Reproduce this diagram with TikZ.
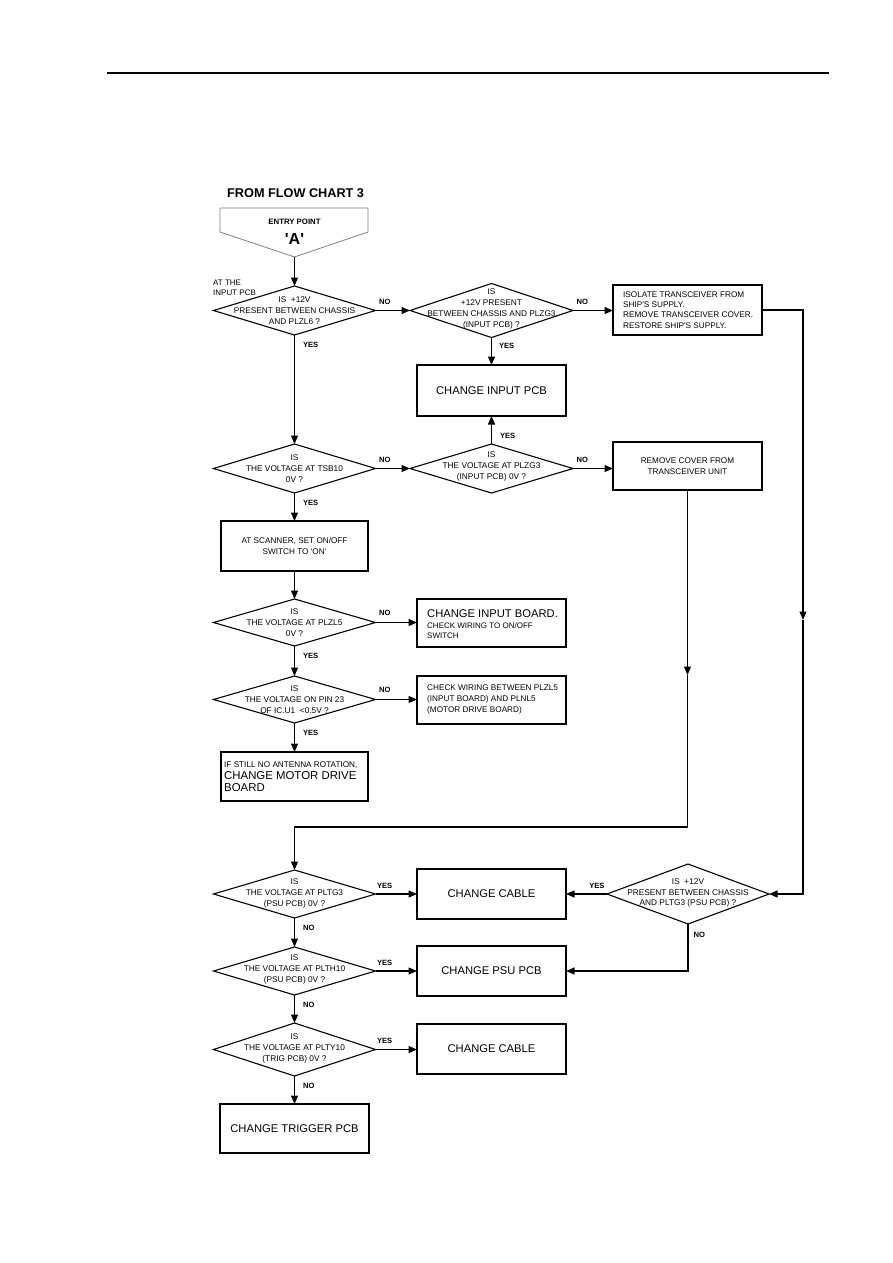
\documentclass[tikz,border=0pt]{standalone}
\usepackage{fontspec}
\setmainfont{Liberation Sans}
\usetikzlibrary{shapes.geometric,arrows.meta,calc}
\begin{document}
\begin{tikzpicture}[x=1pt,y=-1pt,
  arr/.style={line width=1.1pt,-{Triangle[length=8.5pt,width=7pt]}},
  dia/.style={draw,diamond,line width=1.1pt,inner sep=0pt,outer sep=0pt},
  dtxt/.style={align=center,font=\fontsize{8.3}{11}\selectfont,inner sep=0pt},
  bx/.style={draw,rectangle,line width=1.1pt,inner sep=0pt,outer sep=0pt,minimum width=149pt},
  bigt/.style={font=\fontsize{11.2}{13}\selectfont},
  smallt/.style={font=\fontsize{8.2}{10.8}\selectfont,inner sep=0pt},
  lbl/.style={font=\bfseries\fontsize{7.6}{9}\selectfont,inner sep=0pt},
  vlab/.style={lbl,pos=0,anchor=north west,xshift=8pt,yshift=-7pt},
  hlab/.style={lbl,pos=0,anchor=south west,xshift=3pt,yshift=5pt},
]
\fill[white] (0,0) rectangle (893,1263);
\useasboundingbox (0,0) rectangle (893,1263);

% header rule
\draw[line width=1.2pt] (107,73) -- (829,73);

% title and entry point
\node[anchor=west,inner sep=0pt,font=\bfseries\fontsize{12.7}{14}\selectfont] (title) at (227,193) {FROM FLOW CHART 3};
\draw[gray,line width=0.8pt] (220,208) -- (368,208) -- (368,232) -- (294.5,257) -- (220,232) -- cycle;
\coordinate (entry) at (294.5,257);
\node[inner sep=0pt,font=\bfseries\fontsize{7.8}{9}\selectfont] (ent1) at (294.5,222) {ENTRY POINT};
\node[inner sep=0pt,font=\bfseries\fontsize{16}{18}\selectfont] (ent2) at (294.5,239) {\textquotesingle A\textquotesingle};
\node[smallt,align=left,anchor=west,font=\fontsize{8}{10.5}\selectfont] (atthe) at (213,288) {AT THE\\INPUT PCB};

% diamonds
\node[dia,minimum width=162pt,minimum height=49pt] (d1) at (294.5,310.5) {};
\node[dtxt] (d1t) at (d1.center) {IS~~+12V\\PRESENT BETWEEN CHASSIS\\AND PLZL6 ?};
\node[dia,minimum width=163pt,minimum height=54pt] (d2) at (491.5,310.5) {};
\node[dtxt] (d2t) at ([yshift=2pt]d2.center) {IS\\+12V PRESENT\\BETWEEN CHASSIS AND PLZG3\\(INPUT PCB) ?};
\node[dia,minimum width=162pt,minimum height=49pt] (d3) at (294.5,468.5) {};
\node[dtxt] (d3t) at (d3.center) {IS\\THE VOLTAGE AT TSB10\\0V ?};
\node[dia,minimum width=163pt,minimum height=49pt] (d4) at (491.5,468.5) {};
\node[dtxt] (d4t) at ([yshift=2pt]d4.center) {IS\\THE VOLTAGE AT PLZG3\\(INPUT PCB) 0V ?};
\node[dia,minimum width=162pt,minimum height=47pt] (d5) at (294.5,622.5) {};
\node[dtxt] (d5t) at (d5.center) {IS\\THE VOLTAGE AT PLZL5\\0V ?};
\node[dia,minimum width=162pt,minimum height=47pt] (d6) at (294.5,699.5) {};
\node[dtxt] (d6t) at (d6.center) {IS\\THE VOLTAGE ON PIN 23\\OF IC.U1~~<0.5V ?};
\node[dia,minimum width=162pt,minimum height=48pt] (d7) at (294.5,894) {};
\node[dtxt] (d7t) at ([yshift=1pt]d7.center) {IS\\THE VOLTAGE AT PLTG3\\(PSU PCB) 0V ?};
\node[dia,minimum width=162pt,minimum height=48pt] (d8) at (294.5,971) {};
\node[dtxt] (d8t) at ([yshift=2pt]d8.center) {IS\\THE VOLTAGE AT PLTH10\\(PSU PCB) 0V ?};
\node[dia,minimum width=162pt,minimum height=53pt] (d9) at (294.5,1049.5) {};
\node[dtxt] (d9t) at ([yshift=1pt]d9.center) {IS\\THE VOLTAGE AT PLTY10\\(TRIG PCB) 0V ?};
\node[dia,minimum width=162pt,minimum height=60pt] (d10) at (688,894) {};
\node[dtxt,font=\fontsize{8.3}{10.2}\selectfont] (d10t) at ([yshift=1pt]d10.center) {IS~~+12V\\PRESENT BETWEEN CHASSIS\\AND PLTG3 (PSU PCB) ?};

% boxes
\node[bx,minimum height=51pt,bigt] (bip) at (491.5,390.5) {CHANGE INPUT PCB};
\node[bx,minimum height=50pt] (biso) at (687.5,310) {};
\node[smallt,align=left,anchor=west,font=\fontsize{8.2}{10.3}\selectfont] (bisot) at ([xshift=10pt]biso.west) {ISOLATE TRANSCEIVER FROM\\SHIP\textquotesingle S SUPPLY.\\REMOVE TRANSCEIVER COVER.\\RESTORE SHIP\textquotesingle S SUPPLY.};
\node[bx,minimum height=48pt,smallt,align=center] (brem) at (687.5,466) {REMOVE COVER FROM\\TRANSCEIVER UNIT};
\node[bx,minimum width=147pt,minimum height=50pt,smallt,align=center] (bsc) at (294.5,546) {AT SCANNER, SET ON/OFF\\SWITCH TO \textquotesingle ON\textquotesingle};
\node[bx,minimum height=48pt] (bib) at (491.5,623) {};
\node[inner sep=0pt,align=left,anchor=west,font=\fontsize{8}{10}\selectfont] (bibt) at ([xshift=10pt,yshift=-1pt]bib.west) {{\fontsize{11.2}{13}\selectfont CHANGE INPUT BOARD.}\\[1pt]CHECK WIRING TO ON/OFF\\SWITCH};
\node[bx,minimum height=48pt] (bcw) at (491.5,700) {};
\node[smallt,align=left,anchor=west,font=\fontsize{8.2}{11}\selectfont] (bcwt) at ([xshift=10pt,yshift=1pt]bcw.west) {CHECK WIRING BETWEEN PLZL5\\(INPUT BOARD) AND PLNL5\\(MOTOR DRIVE BOARD)};
\node[bx,minimum width=147pt,minimum height=49pt] (bmo) at (294.5,776.5) {};
\node[inner sep=0pt,align=left,anchor=west,font=\fontsize{8.2}{12}\selectfont] (bmot) at ([xshift=3pt]bmo.west) {IF STILL NO ANTENNA ROTATION,\\{\fontsize{11.4}{13}\selectfont CHANGE MOTOR DRIVE}\\{\fontsize{11.4}{13}\selectfont BOARD}};
\node[bx,minimum height=50pt,bigt] (bc1) at (491.5,894) {CHANGE CABLE};
\node[bx,minimum height=50pt,bigt] (bpsu) at (491.5,971) {CHANGE PSU PCB};
\node[bx,minimum height=50pt,bigt] (bc2) at (491.5,1049) {CHANGE CABLE};
\node[bx,minimum height=49pt,bigt] (btr) at (294.5,1128.5) {CHANGE TRIGGER PCB};

% thicker edges
\draw[line width=2.2pt] (bsc.south west) -- (bsc.south east);
\draw[line width=2.2pt] (bmo.north west) -- (bmo.north east);

% connectors
\draw[arr] (entry) -- (d1.north);
\draw[arr] (d1.east) -- node[hlab] (l1) {NO} (d2.west);
\draw[arr] (d1.south) -- node[vlab] (l2) {YES} (d3.north);
\draw[arr] (d2.south) -- node[vlab,xshift=-1pt,yshift=2pt] (l3) {YES} (bip.north);
\draw[arr] (d2.east) -- node[hlab] (l4) {NO} (d2.east -| biso.west);
\coordinate (r1) at (803,620);
\draw[arr] (biso.east) -| (r1);
\draw[arr] (r1) |- (d10.east);
\draw[arr] (d3.east) -- node[hlab] (l5) {NO} (d4.west);
\draw[arr] (d3.south) -- node[vlab] (l6) {YES} (bsc.north);
\draw[arr] (d4.north) -- node[lbl,pos=0.29,anchor=west,xshift=8pt] (l7) {YES} (bip.south);
\draw[arr] (d4.east) -- node[hlab] (l8) {NO} (d4.east -| brem.west);
\coordinate (r2) at (687.5,675);
\coordinate (c2) at (294.5,827);
\draw[arr] (brem.south) -- (r2);
\draw[arr] (r2) |- (c2) -- (d7.north);
\draw[arr] (bsc.south) -- (d5.north);
\draw[arr] (d5.east) -- node[hlab,yshift=1pt] (l9) {NO} (d5.east -| bib.west);
\draw[arr] (d5.south) -- node[vlab] (l10) {YES} (d6.north);
\draw[arr] (d6.east) -- node[hlab,yshift=1pt] (l11) {NO} (d6.east -| bcw.west);
\draw[arr] (d6.south) -- node[vlab] (l12) {YES} (bmo.north);
\draw[arr] (d7.east) -- node[hlab,xshift=-2pt] (l13) {YES} (bc1.west);
\draw[arr] (d7.south) -- node[vlab] (l14) {NO} (d8.north);
\draw[arr] (d8.east) -- node[hlab,xshift=-2pt] (l15) {YES} (bpsu.west);
\draw[arr] (d8.south) -- node[vlab] (l16) {NO} (d9.north);
\draw[arr] (d9.east) -- node[hlab,xshift=-2pt] (l17) {YES} (d9.east -| bc2.west);
\draw[arr] (d9.south) -- node[vlab] (l18) {NO} (btr.north);
\draw[arr] (d10.west) -- node[lbl,pos=0,anchor=south east,xshift=-2pt,yshift=5pt] (l19) {YES} (bc1.east);
\draw[arr] (d10.south) |- node[lbl,pos=0,anchor=north west,xshift=5pt,yshift=-8pt] (l20) {NO} (bpsu.east);
\end{tikzpicture}
\end{document}
